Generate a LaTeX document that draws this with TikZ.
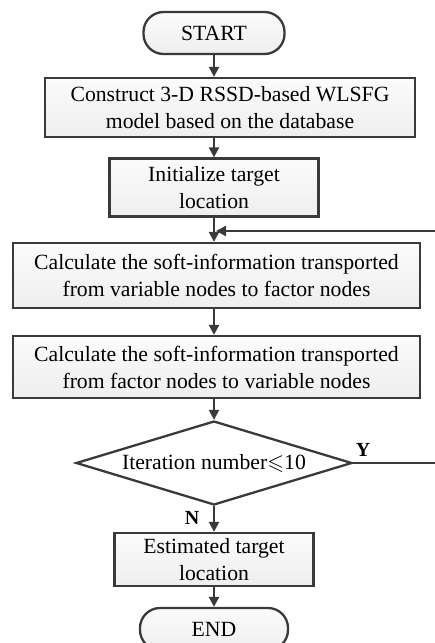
\documentclass[tikz,border=0pt]{standalone}
\usepackage{amssymb}
\usepackage{fontspec}
\setmainfont{Liberation Serif}
\usetikzlibrary{shapes.geometric,arrows.meta}
\definecolor{ln}{HTML}{3A3A3A}
\begin{document}
\begin{tikzpicture}[x=1pt,y=-1pt,
  every node/.style={font=\fontsize{21.7}{27}\selectfont},
  proc/.style={draw=ln,line width=2.3pt,rectangle,align=center,inner sep=0pt,
    top color=gray!3,bottom color=gray!13},
  term/.style={proc,rounded corners=20pt},
  decide/.style={draw=ln,line width=2.3pt,diamond,shape aspect=3.3,inner sep=0pt,
    minimum width=276pt,minimum height=84pt,fill=white},
  flow/.style={draw=ln,line width=2.3pt,-{Triangle[length=10pt,width=10pt]}},
  lab/.style={font=\fontsize{20}{24}\selectfont\bfseries}]
\useasboundingbox (0,0) rectangle (435,643);
\node[term,minimum width=141pt,minimum height=42pt] (start) at (214,33) {START};
\node[proc,minimum width=370pt,minimum height=59pt] (b1) at (230,107.5)
  {Construct 3-D RSSD-based WLSFG\\model based on the database};
\node[proc,minimum width=209pt,minimum height=58pt] (b2) at (214,187.5)
  {Initialize target\\location};
\node[proc,minimum width=407pt,minimum height=65pt] (b3) at (216.5,275.5)
  {Calculate the soft-information transported\\from variable nodes to factor nodes};
\node[proc,minimum width=407pt,minimum height=62pt] (b4) at (216.5,367)
  {Calculate the soft-information transported\\from factor nodes to variable nodes};
\node[decide] (dia) at (214,463) {Iteration number$\leqslant$10};
\node[proc,minimum width=199pt,minimum height=53pt] (b5) at (214,559.5)
  {Estimated target\\location};
\node[term,minimum width=148pt,minimum height=42pt] (end) at (214,629) {END};
\coordinate (loopR) at (440,463);
\coordinate (loopT) at (440,231);
\coordinate (join) at (216,231);
\draw[flow] (start.south) -- (start.south |- b1.north);
\draw[flow] (b2.north |- b1.south) -- (b2.north);
\draw[flow] (b2.south) -- (b2.south |- b3.north);
\draw[flow] (b3.south -| dia.north) -- (b4.north -| dia.north);
\draw[flow] (b4.south -| dia.north) -- (dia.north);
\draw[flow] (dia.south) -- (b5.north);
\draw[flow] (b5.south) -- (end.north);
\draw[flow] (dia.east) -- (loopR) -- (loopT) -- (join);
\node[lab] at (363,450) {Y};
\node[lab] at (192,518) {N};
\end{tikzpicture}
\end{document}
